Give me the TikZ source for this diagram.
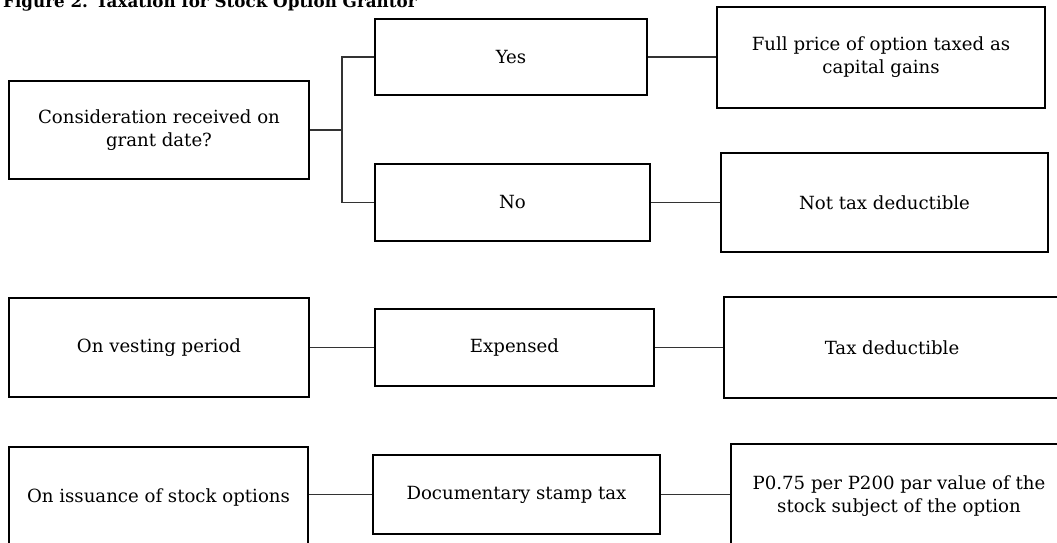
\documentclass[tikz,border=0pt]{standalone}
\usepackage{fontspec}
\setmainfont{DejaVu Serif}
\begin{document}
\begin{tikzpicture}[x=1bp,y=-1bp,
  box/.style={draw=black,line width=1.5bp,inner sep=0pt,align=center,font=\fontsize{18.2}{23}\selectfont},
  conn/.style={draw=black!80,line width=1.6bp}]
\useasboundingbox (0,0) rectangle (1057,543);
\node[anchor=base west,inner sep=0pt,font=\bfseries\fontsize{16.8}{20}\selectfont] (title) at (3,7.5) {Figure 2. Taxation for Stock Option Grantor};
\node[box,minimum width=300bp,minimum height=98bp] (cons) at (159,130) {Consideration received on\\grant date?};
\node[box,minimum width=272bp,minimum height=76bp] (yes) at (511,57) {Yes};
\node[box,minimum width=275bp,minimum height=77bp] (no) at (512.5,202.5) {No};
\node[box,minimum width=328bp,minimum height=101bp] (full) at (881,57.5) {Full price of option taxed as\\capital gains};
\node[box,minimum width=327bp,minimum height=99bp] (ntd) at (884.5,202.5) {Not tax deductible};
\node[box,minimum width=300bp,minimum height=99bp] (vest) at (159,347.5) {On vesting period};
\node[box,minimum width=279bp,minimum height=77bp] (exp) at (514.5,347.5) {Expensed};
\node[box,minimum width=336bp,minimum height=101bp] (td) at (892,347.5) {Tax deductible};
\node[box,minimum width=299bp,minimum height=100bp] (iss) at (158.5,497) {On issuance of stock options};
\node[box,minimum width=287bp,minimum height=79bp] (doc) at (516.5,494.5) {Documentary stamp tax};
\node[box,minimum width=336bp,minimum height=104bp] (pv) at (899,496) {P0.75 per P200 par value of the\\stock subject of the option};
\coordinate (split) at (342,130);
\draw[conn] (cons.east) -- (split);
\draw[conn] (yes.west) -| (split) |- (no.west);
\draw[conn] (yes.east) -- (yes.east -| full.west);
\draw[conn] (no.east) -- (no.east -| ntd.west);
\draw[conn] (vest.east) -- (vest.east -| exp.west);
\draw[conn] (exp.east) -- (exp.east -| td.west);
\draw[conn] (doc.west -| iss.east) -- (doc.west);
\draw[conn] (doc.east) -- (doc.east -| pv.west);
\end{tikzpicture}
\end{document}
